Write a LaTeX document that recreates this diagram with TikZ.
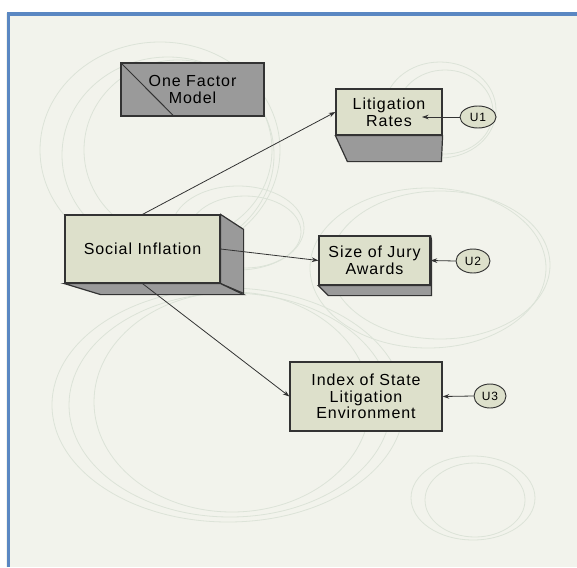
\documentclass[tikz,border=0pt]{standalone}
\usepackage{fontspec}
\setmainfont[LetterSpace=6]{Liberation Sans}
\usepackage{xcolor}
\usetikzlibrary{arrows.meta, shapes.geometric}

\definecolor{pagebg}{HTML}{F2F3EC}
\definecolor{framebl}{HTML}{5A87C2}
\definecolor{ringc}{HTML}{DCE3D8}
\definecolor{boxfill}{HTML}{DDE0CB}
\definecolor{shadefill}{HTML}{9A9A9A}

\begin{document}
\begin{tikzpicture}[x=0.75pt, y=-0.75pt,
    varbox/.style={draw=black!80, line width=0.9pt, fill=boxfill, align=center,
        font=\fontsize{12}{12.5}\selectfont, inner sep=0pt},
    errvar/.style={ellipse, draw=black!80, line width=0.7pt, fill=boxfill,
        font=\fontsize{9}{10}\selectfont, inner sep=0pt},
    face/.style={draw=black!80, line width=0.9pt, fill=shadefill},
    link/.style={draw=black!80, line width=0.6pt, -{Stealth[length=5pt, width=3.5pt]}},
    ring/.style={draw=ringc, line width=0.6pt}]
        % Background and frame
        \useasboundingbox (0,0) rectangle (577,567);
        \fill[white] (0,0) rectangle (577,567);
        \fill[pagebg] (6,13) rectangle (577,567);
        \draw[framebl, line width=2.4pt] (8.2,567) -- (8.2,14) -- (577,14);

        % Faint rings in the background
        \draw[ring] (160,150) ellipse (120 and 108);
        \draw[ring] (168,155) ellipse (106 and 98);
        \draw[ring] (178,150) ellipse (94 and 90);
        \draw[ring] (440,110) ellipse (56 and 48);
        \draw[ring] (445,112) ellipse (48 and 42);
        \draw[ring] (238,228) ellipse (66 and 42);
        \draw[ring] (245,232) ellipse (56 and 36);
        \draw[ring] (428,268) ellipse (118 and 80);
        \draw[ring] (440,265) ellipse (110 and 74);
        \draw[ring] (228,405) ellipse (176 and 117);
        \draw[ring] (230,405) ellipse (161 and 112);
        \draw[ring] (232,402) ellipse (138 and 110);
        \draw[ring] (473,498) ellipse (62 and 42);
        \draw[ring] (475,500) ellipse (50 and 37);

        % Model label
        \node[varbox, fill=shadefill, minimum width=107.25pt, minimum height=39.75pt]
            (factor) at (192.5,89.5) {One Factor\\Model};
        \draw[black!80, line width=0.7pt] (factor.north west) -- ([xshift=40.5pt]factor.south west);

        % Latent variable
        \node[varbox, minimum width=116.25pt, minimum height=51pt]
            (social) at (142.5,249) {Social Inflation};
        \draw[face] (social.north east) -- ++(23,15) -- ++(0,64) -- (social.south east) -- cycle;
        \draw[face] (social.south west) -- (social.south east) -- ++(23,11) -- ++(-143,0) -- cycle;

        % Indicators
        \node[varbox, minimum width=79.5pt, minimum height=34.5pt]
            (rates) at (389,112) {Litigation\\Rates};
        \draw[face] (rates.south west) -- ++(12,26) -- ++(94,0) -- (rates.south east) -- cycle;

        \node[varbox, minimum width=83.25pt, minimum height=36.75pt]
            (jury) at (374.5,260.5) {Size of Jury\\Awards};
        \draw[face] (jury.south west) -- ++(10,10) -- ++(103,0) -- ++(0,-56)
            -- (jury.north east) -- (jury.south east) -- cycle;

        \node[varbox, minimum width=114pt, minimum height=51.75pt]
            (index) at (366,396.5) {Index of State\\Litigation\\Environment};

        % Error terms
        \node[errvar, minimum width=27pt, minimum height=16.5pt] (u1) at (478,117) {U1};
        \node[errvar, minimum width=25.5pt, minimum height=18pt] (u2) at (473,261) {U2};
        \node[errvar, minimum width=24pt, minimum height=18pt] (u3) at (490,396) {U3};
        \coordinate (r1) at (422,117);

        % Loadings
        \draw[link] (social.north) -- (rates.west);
        \draw[link] (social.east) -- (jury.west);
        \draw[link] (social.south) -- (index.west);

        % Error paths
        \draw[link] (u1.west) -- (r1);
        \draw[link] (u2.west) -- (jury.east);
        \draw[link] (u3.west) -- (index.east);
    \end{tikzpicture}
\end{document}
